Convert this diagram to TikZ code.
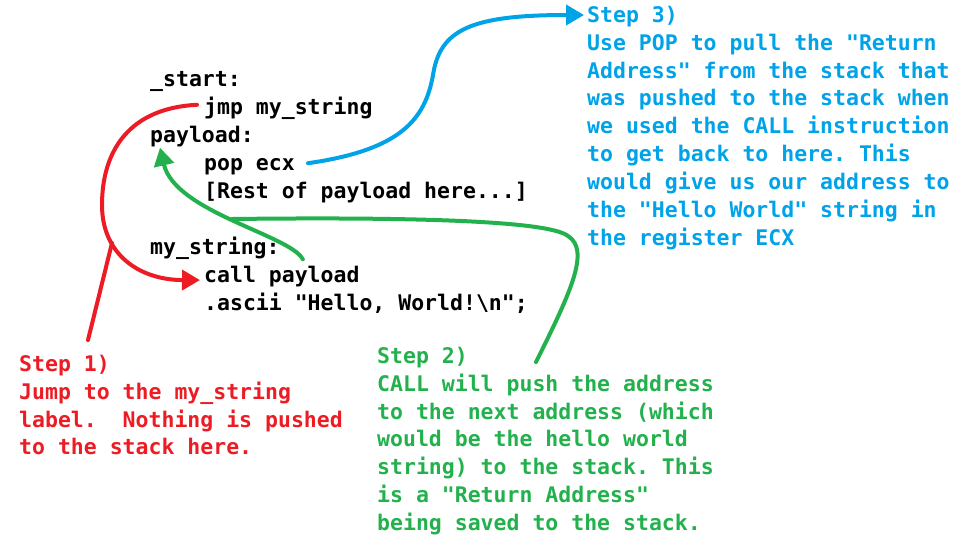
\documentclass[tikz,border=0pt]{standalone}
\usepackage{fontspec}
\setmonofont{DejaVu Sans Mono}
\usetikzlibrary{arrows.meta}
\definecolor{pred}{RGB}{237,28,36}
\definecolor{pgreen}{RGB}{34,177,76}
\definecolor{pblue}{RGB}{0,162,232}
\newcommand{\codefont}{\ttfamily\bfseries\fontsize{21.5}{27.9}\selectfont}
\newcommand{\topstrut}{\rule{0pt}{20pt}}
\frenchspacing

\begin{document}
\begin{tikzpicture}[x=1pt,y=-1pt,
  code/.style={anchor=base west, inner sep=0pt, font=\codefont},
  note/.style={anchor=north west, inner sep=0pt, align=left, font=\codefont},
  link/.style={line width=4pt, line cap=round, -{Triangle[length=18pt,width=20pt]}},
  pointer/.style={line width=4pt, line cap=round}]
\useasboundingbox (0,0) rectangle (969,550);

\node[code] (start) at (150,86) {\_start:};
\node[code] (jmp) at (204,114) {jmp my\_string};
\node[code] (payload) at (150,142) {payload:};
\node[code] (pop) at (204,170) {pop ecx};
\node[code] (rest) at (204,198) {[Rest of payload here...]};
\node[code] (mystr) at (150,254) {my\_string:};
\node[code] (call) at (204,282) {call payload};
\node[code] (ascii) at (204,310) {.ascii "Hello, World!\textbackslash n";};

\node[note, text=pred] (step1) at (19,351) {\topstrut Step 1)\\Jump to the my\_string\\label.\ \ Nothing is pushed\\to the stack here.};
\node[note, text=pgreen] (step2) at (377,343) {\topstrut Step 2)\\CALL will push the address\\to the next address (which\\would be the hello world\\string) to the stack. This\\is a "Return Address"\\being saved to the stack.};
\node[note, text=pblue] (step3) at (587,2) {\topstrut Step 3)\\Use POP to pull the "Return\\Address" from the stack that\\was pushed to the stack when\\we used the CALL instruction\\to get back to here. This\\would give us our address to\\the "Hello World" string in\\the register ECX};

\coordinate (rhit) at (112,243);
\coordinate (ghit) at (232,219);

\draw[link, pred] ([xshift=-7pt,yshift=3pt]jmp.west) .. controls (130,108) and (102,150) .. (102,205) .. controls (102,255) and (140,280) .. ([xshift=-4pt,yshift=-4pt]call.west);
\draw[pointer, pred] ([xshift=69pt,yshift=11pt]step1.north west) -- (rhit);

\draw[link, pgreen] ([xshift=23pt]mystr.south east) .. controls (290,235) and (175,212) .. ([xshift=10pt,yshift=-1pt]payload.south west);
\draw[pointer, pgreen] ([xshift=159pt,yshift=-19pt]step2.north west) .. controls (572,290) and (590,250) .. (568,236) .. controls (548,220) and (400,217) .. (ghit);

\draw[link, pblue] ([xshift=13pt,yshift=3pt]pop.east) .. controls (400,150) and (425,120) .. (433,75) .. controls (440,30) and (470,15) .. ([xshift=-3pt,yshift=-13pt]step3.north west);

\end{tikzpicture}
\end{document}
